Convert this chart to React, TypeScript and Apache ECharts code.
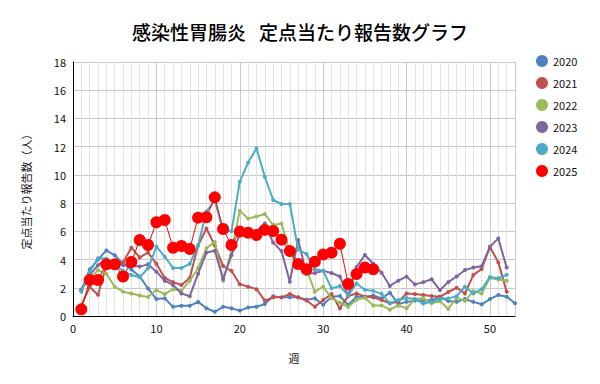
import React, { useEffect, useRef } from "react";
import * as echarts from "echarts";

const seriesNames = ["2020", "2021", "2022", "2023", "2024", "2025"];
const colors = ["#4F81BD", "#C0504D", "#9BBB59", "#8064A2", "#4BACC6", "#FF0000"];

const v2020 = [1.8, 3.3, 4.0, 4.65, 4.3, 3.7, 3.3, 2.8, 1.95, 1.2,
  1.25, 0.65, 0.72, 0.72, 1.0, 0.55, 0.3, 0.65, 0.55, 0.38,
  0.6, 0.65, 0.85, 1.4, 1.32, 1.32, 1.32, 1.15, 1.25, 0.8,
  1.37, 1.42, 0.78, 1.37, 1.37, 1.45, 1.25, 1.65, 0.85, 1.0,
  1.09, 1.09, 1.13, 1.37, 1.06, 1.0, 1.2, 1.0, 0.83, 1.2,
  1.49, 1.37, 0.9];
const v2021 = [0.75, 2.05, 1.5, 3.6, 3.66, 3.8, 4.84, 4.15, 4.5, 3.7,
  2.7, 2.4, 2.2, 2.7, 5.0, 6.2, 5.0, 3.54, 3.2, 2.25,
  2.08, 1.9, 1.09, 1.32, 1.32, 1.56, 1.32, 1.1, 0.66, 1.13,
  1.56, 0.54, 1.42, 1.6, 1.37, 1.32, 1.13, 0.9, 1.0, 1.6,
  1.56, 1.49, 1.42, 1.37, 1.7, 2.0, 1.6, 2.9, 3.33, 4.9,
  3.8, 1.72];
const v2022 = [1.9, 2.65, 3.25, 3.0, 2.08, 1.72, 1.6, 1.45, 1.35, 1.84,
  1.55, 1.9, 1.8, 2.5, 3.4, 4.8, 5.25, 2.5, 4.6, 7.45,
  6.9, 7.05, 7.23, 6.45, 6.55, 4.5, 3.5, 3.3, 1.72, 2.08,
  1.25, 0.94, 0.65, 1.15, 1.3, 0.75, 0.75, 0.45, 0.75, 0.55,
  1.2, 1.25, 0.9, 1.05, 0.5, 1.3, 1.06, 1.77, 1.6, 2.7,
  2.58, 2.5];
const v2023 = [1.85, 2.9, 3.6, 4.0, 3.73, 3.6, 3.57, 3.5, 3.66, 3.14,
  2.5, 2.2, 1.6, 1.4, 3.0, 4.5, 4.63, 2.62, 4.3, 5.8,
  5.95, 6.0, 6.55, 5.2, 4.6, 2.43, 5.39, 2.98, 3.05, 3.2,
  3.05, 2.8, 1.45, 3.47, 4.32, 3.7, 3.07, 2.13, 2.5, 2.79,
  2.24, 2.4, 2.6, 1.84, 2.4, 2.8, 3.26, 3.43, 3.52, 4.91,
  5.5, 3.43];
const v2024 = [1.72, 3.14, 4.1, 4.05, 3.66, 3.2, 2.9, 2.75, 3.38, 4.92,
  4.2, 3.4, 3.4, 3.7, 5.0, 7.4, 8.2, 6.0, 6.0, 9.52,
  10.87, 11.88, 9.87, 8.22, 7.94, 7.94, 4.7, 4.4, 3.3, 3.2,
  1.96, 2.13, 1.45, 2.3, 1.86, 1.78, 1.57, 0.9, 1.13, 1.28,
  1.2, 0.88, 1.0, 1.2, 1.25, 1.4, 2.08, 1.6, 1.9, 2.77,
  2.67, 2.92];
const v2025 = [0.47, 2.55, 2.55, 3.66, 3.66, 2.8, 3.83, 5.39, 5.03, 6.64,
  6.8, 4.84, 4.96, 4.75, 6.97, 7.0, 8.41, 6.17, 5.03, 5.98,
  5.9, 5.74, 6.1, 6.02, 5.41, 4.6, 3.68, 3.31, 3.85, 4.35,
  4.49, 5.12, 2.27, 2.97, 3.44, 3.31];

const allValues = [v2020, v2021, v2022, v2023, v2024, v2025];

const FONT = "'Noto Sans CJK JP', 'Noto Sans', sans-serif";

export default function App() {
  const ref = useRef<HTMLDivElement>(null);
  useEffect(() => {
    if (!ref.current) return;
    const chart = echarts.init(ref.current, null, { renderer: "svg" });
    const series = allValues.map((vals, i) => {
      const is2025 = i === 5;
      return {
        name: seriesNames[i],
        type: "line",
        data: vals.map((v, k) => [k + 1, v]),
        symbol: "circle",
        symbolSize: is2025 ? 12 : 4,
        showSymbol: true,
        lineStyle: { color: colors[i], width: is2025 ? 1 : 2 },
        itemStyle: { color: colors[i] },
        z: 2 + i,
      };
    });
    chart.setOption({
      animation: false,
      title: {
        text: "感染性胃腸炎   定点当たり報告数グラフ",
        left: "center",
        top: 17,
        textStyle: { fontFamily: FONT, fontSize: 19, fontWeight: 500, color: "#000" },
      },
      legend: {
        orient: "vertical",
        left: 531,
        top: 50,
        icon: "circle",
        itemWidth: 12,
        itemHeight: 12,
        itemGap: 10,
        textStyle: { fontFamily: FONT, fontSize: 11, color: "#111" },
        data: seriesNames,
      },
      grid: { left: 73, right: 85, top: 62, bottom: 68, containLabel: false },
      xAxis: {
        type: "value",
        min: 0,
        max: 53,
        interval: 10,
        name: "週",
        nameLocation: "middle",
        nameGap: 36,
        nameTextStyle: { fontFamily: FONT, fontSize: 11, color: "#111" },
        axisLine: { show: true, lineStyle: { color: "#000", width: 1 } },
        axisTick: { show: false },
        axisLabel: { fontFamily: FONT, fontSize: 11, color: "#111", showMaxLabel: false, margin: 6 },
        splitLine: { show: true, lineStyle: { color: "#c8c8c8", width: 1 } },
        minorTick: { show: false, splitNumber: 10 },
        minorSplitLine: { show: true, lineStyle: { color: "#e2e2e2", width: 1 } },
      },
      yAxis: {
        type: "value",
        min: 0,
        max: 18,
        interval: 2,
        name: "定点当たり報告数（人）",
        nameLocation: "middle",
        nameRotate: 90,
        nameGap: 42,
        nameTextStyle: { fontFamily: FONT, fontSize: 11, color: "#111" },
        axisLine: { show: true, lineStyle: { color: "#000", width: 1 } },
        axisTick: { show: false },
        axisLabel: { fontFamily: FONT, fontSize: 11, color: "#111", margin: 7 },
        splitLine: { show: true, lineStyle: { color: "#c8c8c8", width: 1 } },
      },
      series,
    });
    return () => chart.dispose();
  }, []);
  return <div ref={ref} style={{ width: 600, height: 384, position: "absolute", left: 0, top: 0 }} />;
}
